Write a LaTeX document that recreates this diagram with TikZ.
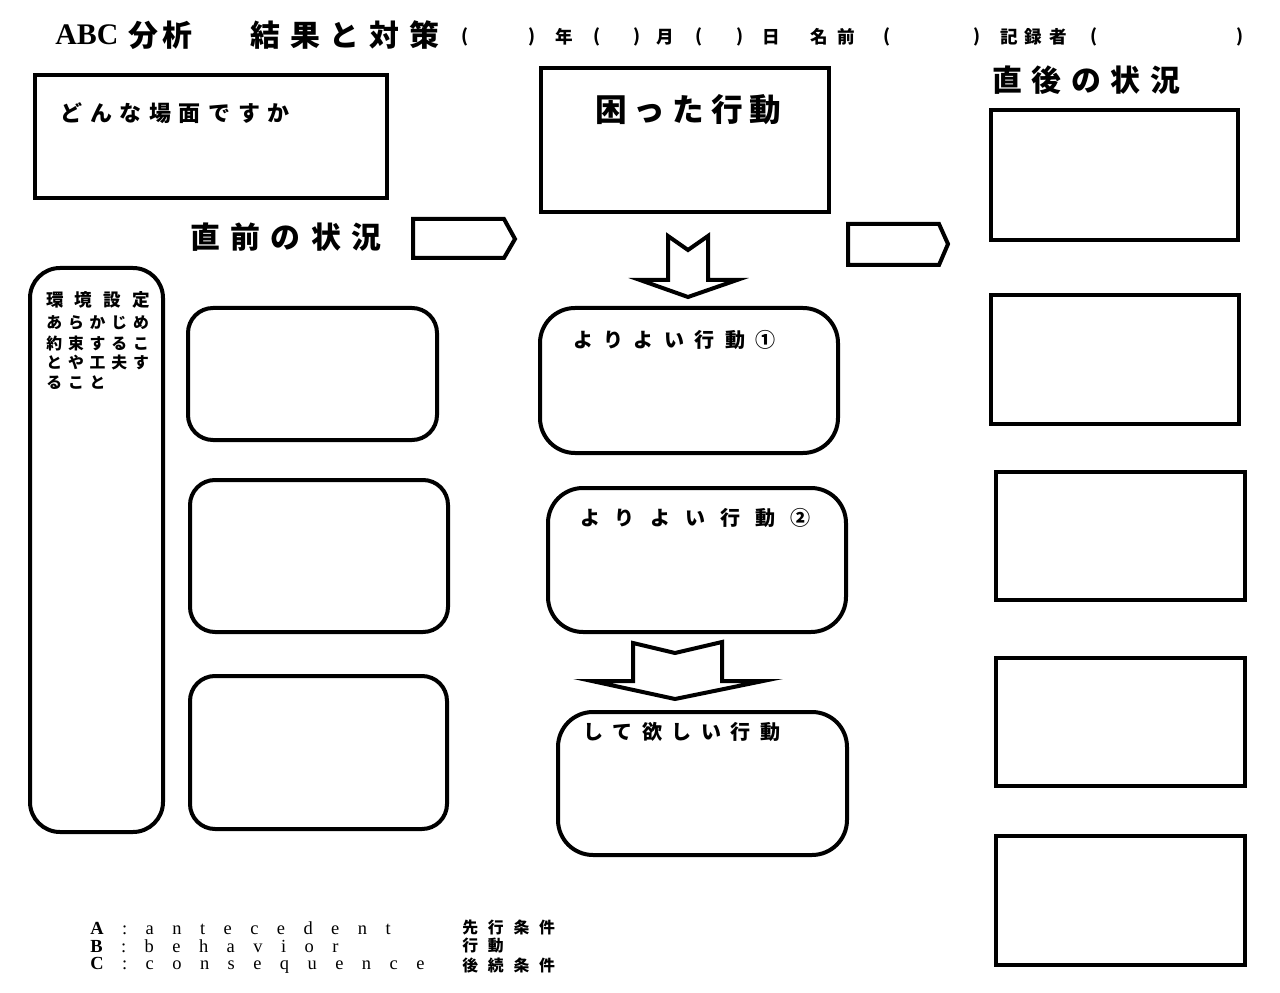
\documentclass[tikz,border=0pt]{standalone}
\usepackage{fontspec}
\setmainfont{Liberation Serif}
\newfontfamily\jpfont{Noto Sans CJK JP}
\newcommand{\lsp}[1]{\addfontfeature{LetterSpace=#1}}
\tikzset{
  box/.style={draw, line width=0.8mm, line join=miter},
  jp/.style={inner sep=0pt, anchor=west, font=\jpfont\bfseries\fontsize{#1}{#1}\selectfont},
  lat/.style={inner sep=0pt, anchor=west, font=\rmfamily\fontsize{#1}{#1}\selectfont},
}
\begin{document}
\begin{tikzpicture}[x=0.2mm,y=-0.2mm]
  \useasboundingbox[fill=white] (0,0) rectangle (1280,993);

  % header
  \node[lat=17pt] (abc) at (55,35) {\bfseries ABC};
  \node[jp=17pt] (bunseki) at (128,35) {\lsp{13}分析};
  \node[jp=17pt] (kekka) at (250,35) {\lsp{33}結果と対策};
  \foreach \x/\t in {465/{(},532/{)},564/年,597/{(},637/{)},665/月,699/{(},740/{)},771/日,887/{(},977/{)},1094/{(},1240/{)}}
    \node[jp=10pt, anchor=center] (h\x) at (\x,37) {\t};
  \node[jp=10pt] (namae) at (810,37) {\lsp{55}名前};
  \node[jp=10pt] (kiroku) at (1000,37) {\lsp{40}記録者};

  % antecedent side
  \draw[box] (35,75) rectangle (387,198);
  \node[jp=12.5pt] (scene) at (60,113) {\lsp{35}どんな場面ですか};
  \node[jp=17pt] (before) at (190,237) {\lsp{35}直前の状況};
  \draw[box] (413,219) -- (504,219) -- (515,239) -- (504,258) -- (413,258) -- cycle;

  \draw[box, rounded corners=6mm] (30,268) rectangle (163,832);
  \node[jp=10pt] (env1) at (46,300) {\lsp{63}環境設定};
  \node[jp=9pt] (env2) at (46,323) {\lsp{37}あらかじめ};
  \node[jp=9pt] (env3) at (46,343) {\lsp{37}約束するこ};
  \node[jp=9pt] (env4) at (46,363) {\lsp{37}とや工夫す};
  \node[jp=9pt] (env5) at (46,383) {\lsp{37}ること};

  \draw[box, rounded corners=5mm] (188,308) rectangle (437,440);
  \draw[box, rounded corners=5mm] (190,480) rectangle (448,632);
  \draw[box, rounded corners=5mm] (190,676) rectangle (447,829);

  % behavior
  \draw[box] (541,68) rectangle (829,212);
  \node[jp=18pt] (trouble) at (595,110) {\lsp{22}困った行動};
  \draw[box] (668,236) -- (688,250) -- (708,236) -- (708,280) -- (737,280)
    -- (688,297) -- (640,280) -- (668,280) -- cycle;

  \draw[box, rounded corners=7mm] (540,308) rectangle (838,453);
  \node[jp=11.4pt] (better1) at (573,340) {\lsp{52}よりよい行動①};
  \draw[box, rounded corners=7mm] (548,488) rectangle (846,632);
  \node[jp=11.4pt] (better2) at (580,518) {\lsp{75}よりよい行動②};
  \draw[box] (633,643) -- (675,653) -- (722,642) -- (722,681) -- (763,681)
    -- (675,699) -- (592,681) -- (633,681) -- cycle;
  \draw[box, rounded corners=7mm] (558,712) rectangle (847,855);
  \node[jp=11.4pt] (wanted) at (583,732) {\lsp{48}して欲しい行動};

  % consequence side
  \draw[box] (848,224) -- (939,224) -- (948,244) -- (939,265) -- (848,265) -- cycle;
  \node[jp=17pt] (after) at (992,80) {\lsp{32}直後の状況};
  \draw[box] (991,110) rectangle (1238,240);
  \draw[box] (991,295) rectangle (1239,424);
  \draw[box] (996,472) rectangle (1245,600);
  \draw[box] (996,658) rectangle (1245,786);
  \draw[box] (996,836) rectangle (1245,965);

  % legend
  \node[lat=10.5pt] (leg a) at (90,928) {\lsp{100}\textbf{A}:antecedent};
  \node[lat=10.5pt] (leg b) at (90,946) {\lsp{100}\textbf{B}:behavior};
  \node[lat=10.5pt] (leg c) at (90,965) {\lsp{100}\textbf{C}:consequence};
  \node[jp=9pt] (jp a) at (462,928) {\lsp{62}先行条件};
  \node[jp=9pt] (jp b) at (462,946) {\lsp{62}行動};
  \node[jp=9pt] (jp c) at (462,965) {\lsp{62}後続条件};
\end{tikzpicture}
\end{document}
